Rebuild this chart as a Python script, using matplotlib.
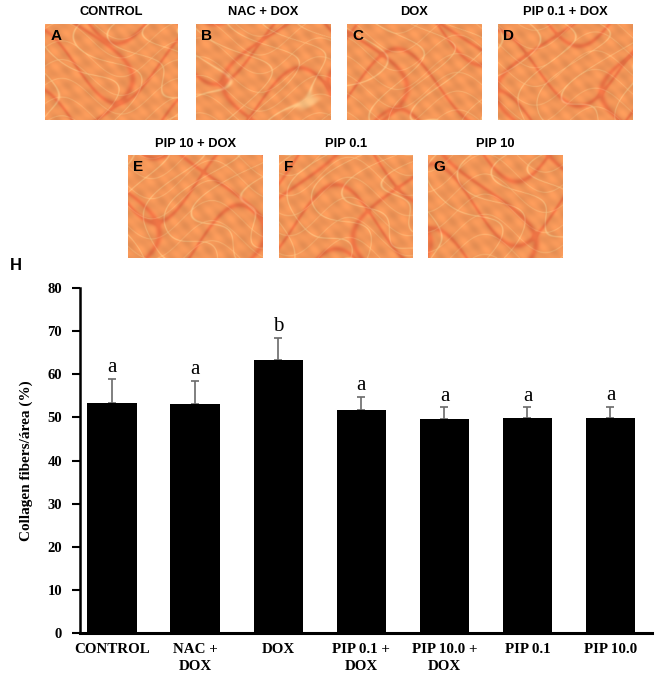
import numpy as np
import matplotlib
matplotlib.use("Agg")
import matplotlib.pyplot as plt

# ---- data ----
categories = ["CONTROL", "NAC +\nDOX", "DOX", "PIP 0.1 +\nDOX", "PIP 10.0 +\nDOX", "PIP 0.1", "PIP 10.0"]
means = [53.4, 53.0, 63.3, 51.7, 49.6, 49.8, 49.8]
errors = [5.5, 5.5, 5.2, 3.1, 2.7, 2.5, 2.7]
sig_letters = ["a", "a", "b", "a", "a", "a", "a"]
yticks = [0, 10, 20, 30, 40, 50, 60, 70, 80]
panel_titles = ["CONTROL", "NAC + DOX", "DOX", "PIP 0.1 + DOX", "PIP 10 + DOX", "PIP 0.1", "PIP 10"]
panel_letters = ["A", "B", "C", "D", "E", "F", "G"]

W, H = 661, 678
fig = plt.figure(figsize=(W / 100, H / 100), dpi=100)

def px_axes(x0, y0, x1, y1):
    return fig.add_axes([x0 / W, 1 - y1 / H, (x1 - x0) / W, (y1 - y0) / H])

# ---- micrograph-like panels (decorative texture, not data) ----
panel_boxes = [(45, 24, 178, 120), (196, 24, 331, 120), (347, 24, 482, 120), (498, 24, 633, 120),
               (128, 155, 263, 258), (279, 155, 413, 258), (428, 155, 563, 258)]
title_y = [12, 12, 12, 12, 144, 144, 144]
gx, gy = np.meshgrid(np.linspace(0, 1, 200), np.linspace(0, 1, 150))
base = np.array([242, 150, 88]) / 255.0
light = np.array([250, 214, 150]) / 255.0
red = np.array([226, 72, 45]) / 255.0
for i, (box, title, letter) in enumerate(zip(panel_boxes, panel_titles, panel_letters)):
    ax_i = px_axes(*box)
    k = i + 1.0
    f1 = np.sin(12 * gx + 2.5 * np.sin(5 * gy + k) + 1.3 * np.sin(11 * gx * gy + k))
    f1b = np.sin(16 * gy + 3 * np.sin(7 * gx + 0.7 * k) + 0.5 * k)
    f2 = np.sin(5 * gy + 2 * np.sin(5 * gx + 2 * k) + k)
    f2b = np.sin(4 * gx + 1.5 * np.sin(3 * gy + 3 * k) + 2 * k)
    L = np.clip(np.exp(-(f1 / 0.08) ** 2) + 0.8 * np.exp(-(f1b / 0.07) ** 2), 0, 1) * 0.6
    D = np.clip(np.exp(-(f2 / 0.14) ** 2) + np.exp(-(f2b / 0.10) ** 2), 0, 1) * 0.45
    M = (np.sin(31 * gx + 17 * gy + k) * np.sin(23 * gy - 13 * gx + 2 * k)
         + 0.5 * np.sin(57 * gx - 41 * gy + 3 * k))
    img = base[None, None, :] * (1 - L - D)[..., None] + light * L[..., None] + red * D[..., None]
    img = img * (1 + 0.04 * M)[..., None]
    img = np.clip(img, 0, 1)
    ax_i.imshow(img, aspect="auto", interpolation="bilinear")
    ax_i.set_axis_off()
    ax_i.text(0.04, 0.95, letter, transform=ax_i.transAxes, ha="left", va="top",
              fontsize=11, fontweight="bold", family="Liberation Sans", color="black")
    cx = (box[0] + box[2]) / 2
    fig.text(cx / W, 1 - title_y[i] / H, title, ha="center", va="center",
             fontsize=9.3, fontweight="bold", family="Liberation Sans")

fig.text(10 / W, 1 - 266 / H, "H", ha="left", va="center", fontsize=12,
         fontweight="bold", family="Liberation Sans")

# ---- bar chart ----
ax = px_axes(80, 288, 652, 633)
x = np.arange(len(categories))
ax.bar(x, means, width=0.6, color="black", zorder=2)
ax.errorbar(x, means, yerr=[np.zeros(len(errors)), errors], fmt="none",
            ecolor="#6a6a6a", elinewidth=1.2, capsize=3, capthick=1.2, zorder=1)
for xi, m, e, s in zip(x, means, errors, sig_letters):
    ax.annotate(s, (xi, m + e), xytext=(0, 5), textcoords="offset points",
                ha="center", va="baseline", fontsize=15, family="Liberation Serif")

ax.set_xlim(-0.39, 6.5)
ax.set_ylim(0, 80)
ax.set_yticks(yticks)
ax.set_yticklabels([str(t) for t in yticks], fontsize=10.5, fontweight="bold",
                   family="Liberation Serif")
ax.set_xticks(x)
ax.set_xticklabels(categories, fontsize=10.8, fontweight="bold", family="Liberation Serif",
                   linespacing=1.45)
ax.tick_params(axis="x", length=0, pad=7)
ax.tick_params(axis="y", length=6, width=1.5, pad=7)
for sp in ["top", "right"]:
    ax.spines[sp].set_visible(False)
ax.spines["left"].set_linewidth(1.8)
ax.spines["bottom"].set_linewidth(2.2)
ax.set_ylabel("Collagen fibers/área (%)", fontsize=11, fontweight="bold",
              family="Liberation Serif", labelpad=10)

fig.savefig("out.png", dpi=100)
